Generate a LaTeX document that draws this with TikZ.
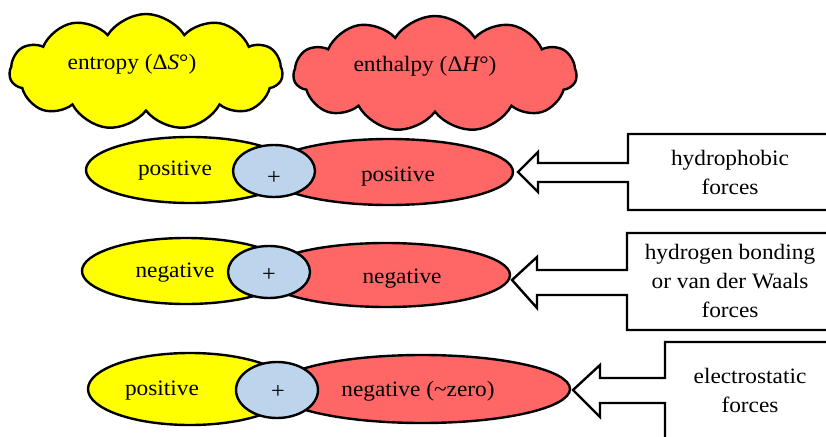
\documentclass[tikz,border=0pt]{standalone}
\usepackage{fontspec}
\setmainfont{Liberation Serif}[FakeStretch=1.06]
\usetikzlibrary{shapes.symbols}
\definecolor{ylw}{HTML}{FFFF00}
\definecolor{rd}{HTML}{FF6666}
\definecolor{blu}{HTML}{BDD5EC}
\tikzset{
  outl/.style={draw=black, line width=2.4pt},
  cloudbox/.style={outl, cloud, cloud puffs=11, cloud puff arc=115, cloud ignores aspect, inner sep=0pt},
  lbl/.style={font=\fontsize{22}{29}\selectfont, inner sep=0pt, anchor=base},
  boxtxt/.style={font=\fontsize{22}{29}\selectfont, inner sep=0pt, align=center, anchor=center},
  plus/.style={font=\fontsize{23}{29}\selectfont, inner sep=0pt, anchor=center},
  callout/.style={outl, fill=white, line join=miter}
}
\begin{document}
\begin{tikzpicture}[x=1pt,y=-1pt]
\clip (0,0) rectangle (826,436);
\fill[white] (0,0) rectangle (826,436);
% clouds
\node[cloudbox, fill=ylw, minimum width=273pt, minimum height=116pt] (c1) at (146,72) {};
\node[cloudbox, fill=rd, minimum width=283pt, minimum height=116pt] (c2) at (435,74) {};
\node[lbl] (c1t) at (132,70) {entropy (Δ{\itshape S}°)};
\node[lbl] (c2t) at (425,71) {enthalpy (Δ{\itshape H}°)};
% row 1
\draw[outl, fill=ylw] (190,170) ellipse [x radius=104, y radius=33];
\draw[outl, fill=rd] (389,172) ellipse [x radius=124, y radius=33];
\draw[outl, fill=blu] (274,171) ellipse [x radius=41, y radius=26];
\node[lbl] (y1) at (175,175) {positive};
\node[lbl] (r1) at (398,181) {positive};
\node[plus] (p1) at (274,178) {+};
% row 2
\draw[outl, fill=ylw] (186,271) ellipse [x radius=104, y radius=33];
\draw[outl, fill=rd] (386,275) ellipse [x radius=124, y radius=32];
\draw[outl, fill=blu] (269,272) ellipse [x radius=41, y radius=26];
\node[lbl] (y2) at (175,277) {negative};
\node[lbl] (r2) at (402,283) {negative};
\node[plus] (p2) at (269,275) {+};
% row 3
\draw[outl, fill=ylw] (190,389) ellipse [x radius=102, y radius=36];
\draw[outl, fill=rd] (422,389) ellipse [x radius=148, y radius=34];
\draw[outl, fill=blu] (277,390) ellipse [x radius=41, y radius=28];
\node[lbl] (y3) at (162,395) {positive};
\node[lbl] (r3) at (418,396) {negative (\char"007E zero)};
\node[plus] (p3) at (278,392) {+};
% callouts
\draw[callout] (518,172) -- (538,152) -- (538,163) -- (628,163) -- (628,134) -- (840,134)
  -- (840,210) -- (628,210) -- (628,182) -- (538,182) -- (538,192) -- cycle;
\draw[callout] (512,280) -- (537,257) -- (537,270) -- (627,270) -- (627,233) -- (840,233)
  -- (840,330) -- (627,330) -- (627,295) -- (537,295) -- (537,308) -- cycle;
\draw[callout] (573,390) -- (600,365) -- (600,378) -- (665,378) -- (665,342) -- (840,342)
  -- (840,445) -- (665,445) -- (665,403) -- (600,403) -- (600,417) -- cycle;
\node[boxtxt] (b1) at (730,172) {hydrophobic\\forces};
\node[boxtxt] (b2) at (730,281) {hydrogen bonding\\or van der Waals\\forces};
\node[boxtxt] (b3) at (750,390) {electrostatic\\forces};
\end{tikzpicture}
\end{document}
